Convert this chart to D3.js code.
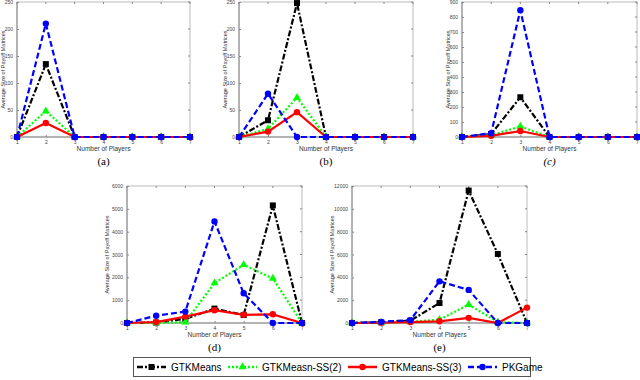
<!DOCTYPE html>
<html>
<head>
<meta charset="utf-8">
<script src="https://cdn.jsdelivr.net/npm/d3@7"></script>
<style>
  body { margin: 0; background: #fff; }
  svg { display: block; font-family: "Liberation Sans", Arial, sans-serif; }
</style>
</head>
<body>
<svg id="chart" width="640" height="380"></svg>
<script>
// number of players, shared by all panels
var players = [1, 2, 3, 4, 5, 6, 7];

var seriesNames = ["GTKMeans", "GTKMeasn-SS(2)", "GTKMeans-SS(3)", "PKGame"];

// panel (a)
var aGTK   = [0, 135, 0, 0, 0, 0, 0];
var aSS2   = [0, 48, 0, 0, 0, 0, 0];
var aSS3   = [0, 26, 0, 0, 0, 0, 0];
var aPK    = [0, 210, 0, 0, 0, 0, 0];
// panel (b)
var bGTK   = [0, 31, 248, 0, 0, 0, 0];
var bSS2   = [0, 15, 73, 0, 0, 0, 0];
var bSS3   = [0, 10, 46, 0, 0, 0, 0];
var bPK    = [0, 80, 0, 0, 0, 0, 0];
// panel (c)
var cGTK   = [0, 20, 265, 0, 0, 0, 0];
var cSS2   = [0, 12, 70, 0, 0, 0, 0];
var cSS3   = [0, 8, 40, 0, 0, 0, 0];
var cPK    = [0, 25, 845, 0, 0, 0, 0];
// panel (d)
var dGTK   = [0, 20, 180, 630, 350, 5150, 0];
var dSS2   = [0, 0, 40, 1750, 2550, 1950, 0];
var dSS3   = [0, 40, 280, 560, 360, 380, 0];
var dPK    = [0, 320, 500, 4450, 1300, 0, 0];
// panel (e)
var eGTK   = [0, 60, 200, 1750, 11600, 6050, 0];
var eSS2   = [0, 30, 100, 300, 1600, 80, 0];
var eSS3   = [0, 40, 80, 150, 450, 0, 1350];
var ePK    = [0, 100, 250, 3650, 2900, 0, 0];

var yMaxA = 250, yMaxB = 250, yMaxC = 900, yMaxD = 6000, yMaxE = 12000;
var yStepA = 50, yStepB = 50, yStepC = 100, yStepD = 1000, yStepE = 2000;

var styles = [
  { color: "#000000", dash: "6,2,2,2", marker: "square" },
  { color: "#00ff00", dash: "2,2",     marker: "triangle" },
  { color: "#ff0000", dash: null,      marker: "circle" },
  { color: "#0000ff", dash: "6,3",     marker: "circle" }
];

var svg = d3.select("#chart");

var panels = [
  { label: "(a)", l: 17,  r: 190, t: 2,   b: 137, ymax: yMaxA, step: yStepA, data: [aGTK, aSS2, aSS3, aPK] },
  { label: "(b)", l: 239, r: 413, t: 2,   b: 137, ymax: yMaxB, step: yStepB, data: [bGTK, bSS2, bSS3, bPK] },
  { label: "(c)", l: 462, r: 637, t: 2,   b: 137, ymax: yMaxC, step: yStepC, data: [cGTK, cSS2, cSS3, cPK], italic: true },
  { label: "(d)", l: 127, r: 302, t: 186, b: 323, ymax: yMaxD, step: yStepD, data: [dGTK, dSS2, dSS3, dPK] },
  { label: "(e)", l: 352, r: 527, t: 186, b: 323, ymax: yMaxE, step: yStepE, data: [eGTK, eSS2, eSS3, ePK] }
];

function drawMarker(g, type, x, y, color) {
  if (type === "square") {
    g.append("rect").attr("x", x - 3).attr("y", y - 3).attr("width", 6).attr("height", 6).attr("fill", color);
  } else if (type === "triangle") {
    g.append("path").attr("d", d3.symbol().type(d3.symbolTriangle).size(28)())
      .attr("transform", "translate(" + x + "," + y + ")").attr("fill", color);
  } else {
    g.append("circle").attr("cx", x).attr("cy", y).attr("r", 3.2).attr("fill", color);
  }
}

panels.forEach(function(p) {
  var g = svg.append("g");
  var x = d3.scaleLinear().domain([1, 7]).range([p.l, p.r]);
  var y = d3.scaleLinear().domain([0, p.ymax]).range([p.b, p.t]);
  var yTicks = d3.range(0, p.ymax + 1, p.step);

  // box
  g.append("rect").attr("x", p.l).attr("y", p.t).attr("width", p.r - p.l).attr("height", p.b - p.t)
    .attr("fill", "none").attr("stroke", "#bbb").attr("stroke-width", 1);
  g.append("line").attr("x1", p.l).attr("x2", p.l).attr("y1", p.t).attr("y2", p.b).attr("stroke", "#888");
  g.append("line").attr("x1", p.l).attr("x2", p.r).attr("y1", p.b).attr("y2", p.b).attr("stroke", "#888");

  // axes
  var xAxis = d3.axisBottom(x).tickValues(players).tickFormat(d3.format("d"))
    .tickSize(2).tickSizeOuter(0).tickPadding(1);
  var yAxis = d3.axisLeft(y).tickValues(yTicks).tickFormat(d3.format("d"))
    .tickSize(2).tickSizeOuter(0).tickPadding(2);
  var gx = g.append("g").attr("transform", "translate(0," + p.b + ")").call(xAxis);
  var gy = g.append("g").attr("transform", "translate(" + p.l + ",0)").call(yAxis);
  [gx, gy].forEach(function(a) {
    a.select(".domain").remove();
    a.selectAll("line").attr("stroke", "#888");
    a.selectAll("text").attr("font-size", 5).attr("fill", "#444");
  });
  gx.selectAll(".tick line").attr("y2", -2);
  gy.selectAll(".tick line").attr("x2", 2);
  // ticks mirrored on top and right
  g.selectAll(".ttop").data(players).enter().append("line")
    .attr("x1", function(d) { return x(d); }).attr("x2", function(d) { return x(d); })
    .attr("y1", p.t).attr("y2", p.t + 2).attr("stroke", "#888");
  g.selectAll(".tright").data(yTicks).enter().append("line")
    .attr("x1", p.r).attr("x2", p.r - 2)
    .attr("y1", function(d) { return y(d); }).attr("y2", function(d) { return y(d); }).attr("stroke", "#888");

  // axis titles
  g.append("text").attr("x", (p.l + p.r) / 2).attr("y", p.b + 14).attr("text-anchor", "middle")
    .attr("font-size", 6.5).attr("fill", "#333").text("Number of Players");
  var yl = p.l - (p.ymax >= 1000 ? 18 : 12);
  g.append("text").attr("transform", "translate(" + yl + "," + (p.t + p.b) / 2 + ") rotate(-90)")
    .attr("text-anchor", "middle").attr("font-size", 5.5).attr("fill", "#333")
    .text("Average Size of Payoff Matrices");
  g.append("text").attr("x", (p.l + p.r) / 2).attr("y", p.b + 28).attr("text-anchor", "middle")
    .attr("font-family", "'Liberation Serif', 'DejaVu Serif', serif")
    .attr("font-style", p.italic ? "italic" : "normal")
    .attr("font-size", 11).attr("fill", "#000").text(p.label);

  // series
  var line = d3.line().x(function(d, i) { return x(players[i]); }).y(function(d) { return y(d); });
  p.data.forEach(function(vals, si) {
    var s = styles[si];
    var sg = g.append("g");
    sg.append("path").datum(vals).attr("d", line).attr("fill", "none")
      .attr("stroke", s.color).attr("stroke-width", 2.2)
      .attr("stroke-dasharray", s.dash);
    vals.forEach(function(v, i) { drawMarker(sg, s.marker, x(players[i]), y(v), s.color); });
  });
});

// legend
var lg = svg.append("g");
lg.append("rect").attr("x", 133.5).attr("y", 357.5).attr("width", 397).attr("height", 19)
  .attr("fill", "#fff").attr("stroke", "#555").attr("stroke-width", 1);
var legendX = [137, 228, 348, 468];
seriesNames.forEach(function(name, i) {
  var s = styles[i];
  var lx = legendX[i], ly = 367;
  lg.append("line").attr("x1", lx).attr("x2", lx + 29).attr("y1", ly).attr("y2", ly)
    .attr("stroke", s.color).attr("stroke-width", 2.5).attr("stroke-dasharray", s.dash);
  drawMarker(lg, s.marker, lx + 14.5, ly, s.color);
  lg.append("text").attr("x", lx + 34).attr("y", ly + 3.5).attr("font-size", 10).attr("fill", "#000").text(name);
});
</script>
</body>
</html>
